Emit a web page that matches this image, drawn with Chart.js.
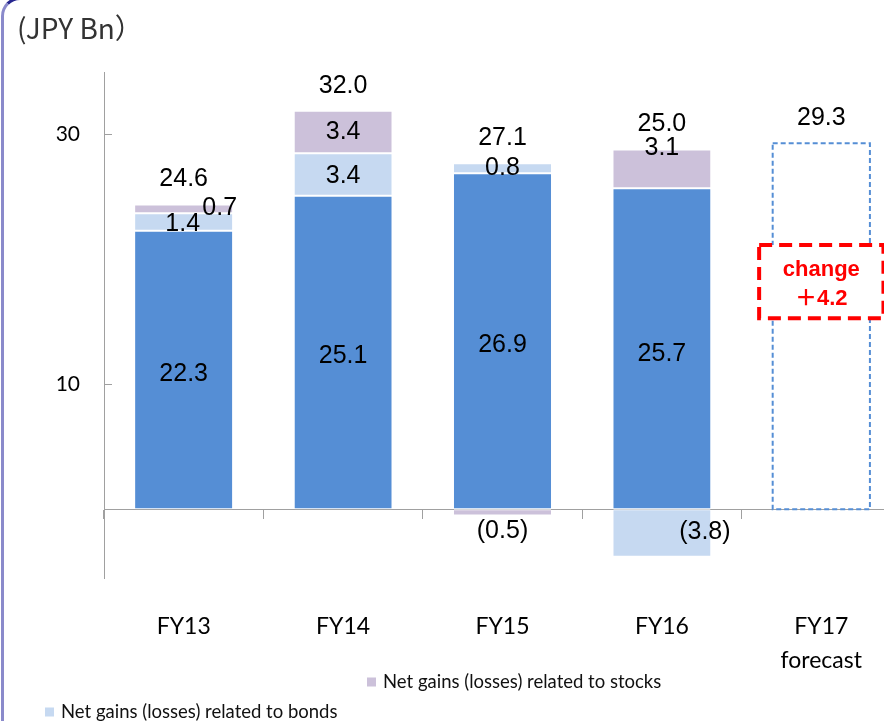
<!DOCTYPE html>
<html>
<head>
<meta charset="utf-8">
<script src="https://cdn.jsdelivr.net/npm/chart.js@4.4.1/dist/chart.umd.min.js"></script>
<style>
  html, body { margin: 0; padding: 0; background: #fff; overflow: hidden; width: 884px; height: 721px; }
  #frame { position: absolute; left: 1px; top: -3px; width: 1000px; height: 800px; box-sizing: border-box;
           border: 3px solid #8a8acb; border-top-color: #26268f; border-radius: 19px; }
  #title { position: absolute; left: 17px; top: 7px; font: 28px "Noto Sans CJK JP", "Noto Sans", sans-serif; color: #333; }
  #wrap { position: absolute; left: 0; top: 0; width: 920px; height: 721px; }
</style>
</head>
<body>
<div id="frame"></div>
<div id="wrap"><canvas id="c"></canvas></div>
<div id="title">(JPY Bn）</div>
<script>
// Fiscal years on the category axis
const categories = [['FY13'], ['FY14'], ['FY15'], ['FY16'], ['FY17', 'forecast']];
// Core profit and the two gain/loss components (JPY Bn)
const coreProfit = [22.3, 25.1, 26.9, 25.7, null];
const bondGains  = [1.4, 3.4, 0.8, -3.8, null];
const stockGains = [0.7, 3.4, -0.5, 3.1, null];
// Full-year forecast, drawn as a dashed outline
const forecast   = [null, null, null, null, 29.3];
// Totals printed above each column
const totals     = [24.6, 32.0, 27.1, 25.0, 29.3];
// Labelled ticks on the value axis
const yTicks     = [10, 30];
// Callout on the forecast column
const changeText = ['change', '\uFF0B4.2'];

const BLUE = '#558ED5', LIGHT = '#C6D9F1', LILAC = '#CCC1DA', AXIS = '#a0a0a0';
const NUM_FONT = '25px "Liberation Sans", Arial, sans-serif';
const TXT_FONT = 'Lato, "Noto Sans", sans-serif';

const fmt = v => v < 0 ? '(' + Math.abs(v).toFixed(1) + ')' : v.toFixed(1);

// Per-label nudges [dx, dy] in pixels, by dataset then column
const nudges = [
  [[0, 4], [0, 4], [0, 4], [0, 5], null],
  [[-1, 2], [0, 2], [0, 0], [43, -1], null],
  [[36, -1], [0, 0], [0, 19], [0, -21], null]
];

const valueLabels = {
  id: 'valueLabels',
  afterDatasetsDraw(chart) {
    const ctx = chart.ctx;
    ctx.save();
    ctx.font = NUM_FONT;
    ctx.fillStyle = '#000';
    ctx.textAlign = 'center';
    ctx.textBaseline = 'middle';
    // segment values
    [0, 1, 2].forEach(di => {
      const meta = chart.getDatasetMeta(di);
      const data = chart.data.datasets[di].data;
      meta.data.forEach((el, i) => {
        const v = data[i];
        if (v === null || v === undefined) return;
        const p = el.getProps(['x', 'y', 'base'], true);
        const n = nudges[di][i] || [0, 0];
        ctx.fillText(fmt(v), p.x + n[0], (p.y + p.base) / 2 + n[1]);
      });
    });
    // totals above the highest point of each column
    totals.forEach((t, i) => {
      let top = Infinity, x = null;
      chart.data.datasets.forEach((ds, di) => {
        const v = ds.data[i];
        if (v === null || v === undefined) return;
        const p = chart.getDatasetMeta(di).data[i].getProps(['x', 'y', 'base'], true);
        top = Math.min(top, p.y, p.base);
        x = p.x;
      });
      if (x !== null) ctx.fillText(t.toFixed(1), x, top - 25);
    });
    ctx.restore();
  }
};

const forecastOutline = {
  id: 'forecastOutline',
  afterDatasetsDraw(chart) {
    const ctx = chart.ctx;
    const meta = chart.getDatasetMeta(3);
    ctx.save();
    ctx.strokeStyle = BLUE;
    ctx.lineWidth = 2;
    ctx.setLineDash([5, 3]);
    meta.data.forEach((el, i) => {
      if (forecast[i] === null) return;
      const p = el.getProps(['x', 'y', 'base', 'width'], true);
      ctx.strokeRect(p.x - p.width / 2, p.y, p.width, p.base - p.y);
    });
    ctx.restore();
  }
};

const changeCallout = {
  id: 'changeCallout',
  afterDatasetsDraw(chart, args, opts) {
    const ctx = chart.ctx, xs = chart.scales.x, ys = chart.scales.y;
    const cx = xs.getPixelForValue(opts.index);
    const half = (xs.width / categories.length) * opts.halfWidth;
    const top = ys.getPixelForValue(opts.from), bottom = ys.getPixelForValue(opts.to);
    ctx.save();
    ctx.strokeStyle = '#FF0000';
    ctx.lineWidth = 4;
    ctx.setLineDash([13, 7]);
    ctx.fillStyle = '#fff';
    ctx.fillRect(cx - half, top, half * 2, bottom - top);
    ctx.strokeRect(cx - half, top, half * 2, bottom - top);
    ctx.setLineDash([]);
    ctx.fillStyle = '#FF0000';
    ctx.font = 'bold 22px "Liberation Sans", Arial, "Noto Sans CJK JP", sans-serif';
    ctx.textAlign = 'center';
    ctx.textBaseline = 'middle';
    const mid = (top + bottom) / 2;
    ctx.fillText(changeText[0], cx, mid - 12);
    ctx.fillText(changeText[1], cx, mid + 17);
    ctx.restore();
  }
};

const splitLegend = {
  id: 'splitLegend',
  afterDraw(chart, args, opts) {
    const ctx = chart.ctx;
    ctx.save();
    ctx.font = '18.5px ' + TXT_FONT;
    ctx.textBaseline = 'middle';
    ctx.textAlign = 'left';
    opts.items.forEach(it => {
      const ds = chart.data.datasets[it.dataset];
      ctx.fillStyle = ds.backgroundColor;
      ctx.fillRect(it.x, it.y - 4.5, 9, 9);
      ctx.fillStyle = '#111';
      ctx.fillText(ds.label, it.x + 16, it.y);
    });
    ctx.restore();
  }
};

const segBorder = { top: 1, bottom: 1, left: 0, right: 0 };

new Chart(document.getElementById('c'), {
  type: 'bar',
  data: {
    labels: categories,
    datasets: [
      { label: 'Core profit', data: coreProfit, backgroundColor: BLUE, borderColor: '#fff', borderWidth: segBorder, borderSkipped: false },
      { label: 'Net gains (losses) related to bonds', data: bondGains, backgroundColor: LIGHT, borderColor: '#fff', borderWidth: segBorder, borderSkipped: false },
      { label: 'Net gains (losses) related to stocks', data: stockGains, backgroundColor: LILAC, borderColor: '#fff', borderWidth: segBorder, borderSkipped: false },
      { label: 'FY17 forecast', data: forecast, backgroundColor: 'rgba(0,0,0,0)', borderWidth: 0 }
    ]
  },
  options: {
    responsive: true,
    maintainAspectRatio: false,
    animation: false,
    events: [],
    layout: { padding: { left: 0, top: 72, right: 19, bottom: 143 } },
    datasets: { bar: { categoryPercentage: 1, barPercentage: 0.61 } },
    plugins: {
      legend: { display: false },
      tooltip: { enabled: false },
      changeCallout: { index: 4, from: 21.15, to: 15.3, halfWidth: 0.39 },
      splitLegend: { items: [ { dataset: 2, x: 367, y: 682 }, { dataset: 1, x: 45, y: 712 } ] }
    },
    scales: {
      x: {
        type: 'category',
        stacked: true,
        position: { y: 0 },
        offset: true,
        afterFit: s => { s.paddingLeft = 0; s.paddingRight = 0; },
        grid: { offset: true, drawOnChartArea: false, tickLength: 9, color: AXIS },
        border: { color: AXIS },
        ticks: { padding: 91, color: '#000', font: { family: TXT_FONT, size: 23, lineHeight: 1.5 }, maxRotation: 0, autoSkip: false }
      },
      y: {
        stacked: true,
        min: -5.5,
        max: 35,
        position: 'left',
        afterBuildTicks: s => { s.ticks = yTicks.map(v => ({ value: v })); },
        afterFit: s => { s.width = 104; s.paddingTop = 0; s.paddingBottom = 0; },
        grid: { drawOnChartArea: false, tickLength: -8, color: AXIS },
        border: { color: AXIS },
        ticks: { padding: 32, color: '#000', font: { family: TXT_FONT, size: 21 } }
      }
    }
  },
  plugins: [forecastOutline, valueLabels, changeCallout, splitLegend]
});
</script>
</body>
</html>
